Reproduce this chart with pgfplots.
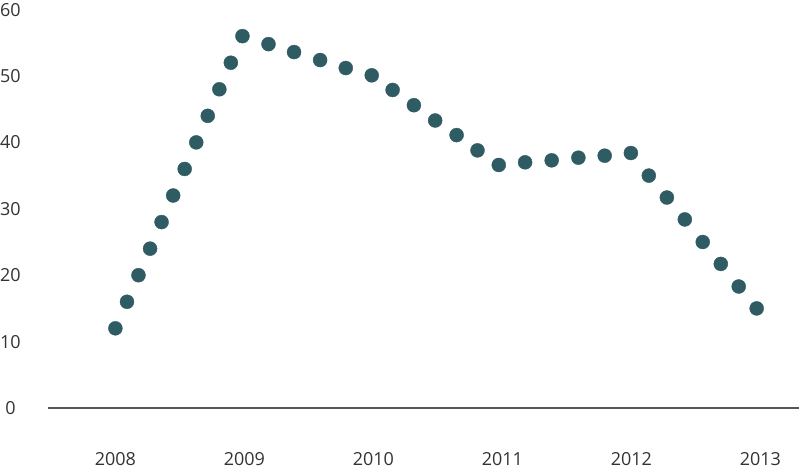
\documentclass[border=0pt]{standalone}
\usepackage{pgfplots}
\pgfplotsset{compat=1.18}
\usepackage{fontspec}
\setmainfont{Open Sans}
\definecolor{dotc}{HTML}{2F5B63}
\definecolor{txt}{HTML}{333333}
\definecolor{basec}{HTML}{555555}
\begin{document}
\fontsize{18pt}{21pt}\selectfont
\begin{tikzpicture}
\begin{axis}[
  scale only axis,
  width=752pt, height=472pt,
  xmin=2007.481, xmax=2013.302,
  ymin=-9.55, ymax=61.43,
  axis line style={draw=none},
  major tick length=0pt,
  xtick={2008,2009,2010,2011,2012,2013},
  ytick={0,10,20,30,40,50,60},
  /pgf/number format/assume math mode=true,
  /pgf/number format/1000 sep={},
  tick label style={font=\fontsize{18pt}{21pt}\selectfont, text=txt},
  xticklabel style={anchor=center, yshift=12pt},
  yticklabel style={anchor=east, text width=21pt, align=center, inner sep=0pt, xshift=-27.3pt},
  clip=false,
]
\draw[basec, line width=1.3pt] (axis cs:2007.481,0) -- (axis cs:2013.302,0);
\addplot[only marks, mark=*, mark size=7pt, color=dotc, mark options={draw=dotc, fill=dotc}] coordinates {
(2008.000,12)
(2008.090,16)
(2008.179,20)
(2008.269,24)
(2008.358,28)
(2008.448,32)
(2008.537,36)
(2008.627,40)
(2008.716,44)
(2008.806,48)
(2008.895,52)
(2008.985,56)
(2009.187,54.8)
(2009.385,53.6)
(2009.587,52.4)
(2009.786,51.2)
(2009.987,50.1)
(2010.149,47.9)
(2010.314,45.6)
(2010.479,43.3)
(2010.645,41.1)
(2010.807,38.8)
(2010.972,36.6)
(2011.176,37.0)
(2011.382,37.3)
(2011.589,37.7)
(2011.793,38.0)
(2011.996,38.4)
(2012.135,35.0)
(2012.275,31.7)
(2012.414,28.4)
(2012.553,25.0)
(2012.693,21.7)
(2012.832,18.3)
(2012.971,15.0)
};
\end{axis}
\end{tikzpicture}
\end{document}
